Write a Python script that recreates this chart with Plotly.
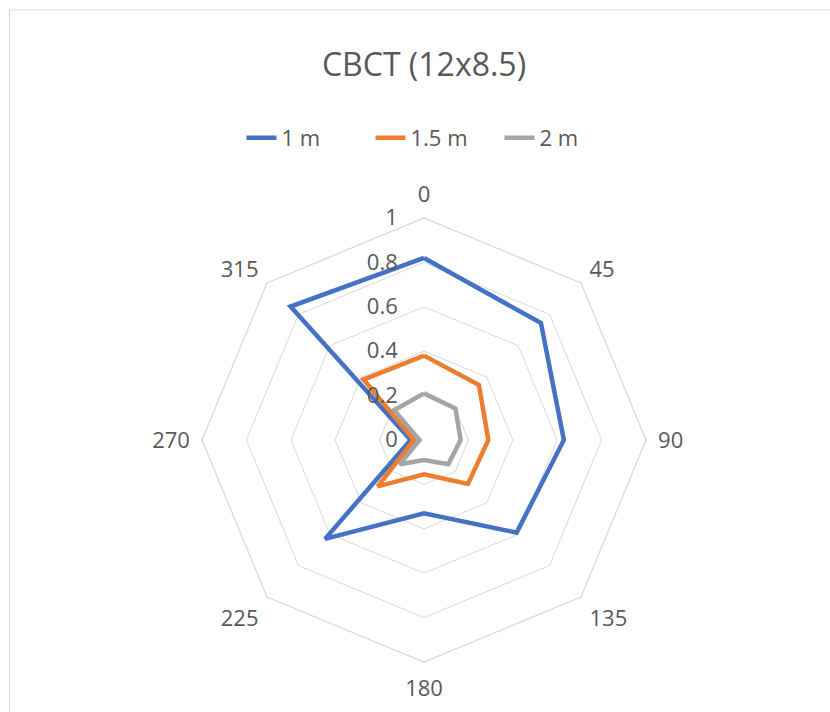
import plotly.graph_objects as go

# Directions (degrees) and normalized values for each distance
directions = ["0", "45", "90", "135", "180", "225", "270", "315"]
series_names = ["1 m", "1.5 m", "2 m"]
values_1m = [0.82, 0.745, 0.63, 0.59, 0.33, 0.63, 0.06, 0.85]
values_15m = [0.38, 0.35, 0.29, 0.28, 0.155, 0.295, 0.045, 0.385]
values_2m = [0.21, 0.20, 0.165, 0.155, 0.09, 0.155, 0.02, 0.19]
radial_ticks = [0, 0.2, 0.4, 0.6, 0.8, 1]

colors = ["#4472C4", "#ED7D31", "#A5A5A5"]
text_color = "#595959"
grid_color = "#D9D9D9"
font_family = "Open Sans, Noto Sans, sans-serif"

fig = go.Figure()
for name, vals, col in zip(series_names, [values_1m, values_15m, values_2m], colors):
    fig.add_trace(go.Scatterpolar(
        r=vals + vals[:1],
        theta=directions + directions[:1],
        mode="lines",
        name=name,
        line=dict(color=col, width=4.5),
    ))

W, H = 830, 712
cx, cy, R = 424, 440, 222

fig.update_layout(
    width=W, height=H,
    margin=dict(l=0, r=0, t=0, b=0),
    paper_bgcolor="white",
    plot_bgcolor="white",
    font=dict(family=font_family, color=text_color, size=22),
    title=dict(
        text="CBCT (12x8.5)",
        x=cx / W, xanchor="center",
        y=1 - 65 / H, yanchor="middle",
        font=dict(size=32, color=text_color, family=font_family),
    ),
    legend=dict(
        orientation="h",
        x=435 / W, xanchor="center",
        y=1 - 138 / H, yanchor="middle",
        font=dict(size=22, color=text_color),
        entrywidth=84,
        entrywidthmode="pixels",
    ),
    polar=dict(
        domain=dict(
            x=[(cx - R) / W, (cx + R) / W],
            y=[(H - cy - R) / H, (H - cy + R) / H],
        ),
        bgcolor="white",
        gridshape="linear",
        angularaxis=dict(
            type="category",
            categoryarray=directions,
            direction="clockwise",
            rotation=90,
            showline=True,
            linecolor=grid_color,
            linewidth=1.3,
            showgrid=False,
            ticks="outside",
            ticklen=7,
            tickcolor="rgba(0,0,0,0)",
            tickfont=dict(size=22, color=text_color),
        ),
        radialaxis=dict(
            range=[0, 1],
            tickvals=radial_ticks,
            ticktext=[f"{v:g}" for v in radial_ticks],
            angle=90,
            tickangle=90,
            side="counterclockwise",
            showline=False,
            ticks="outside",
            ticklen=18,
            tickcolor="rgba(0,0,0,0)",
            gridcolor=grid_color,
            gridwidth=1.3,
            tickfont=dict(size=22, color=text_color),
        ),
    ),
    shapes=[dict(
        type="rect", xref="paper", yref="paper",
        x0=9.5 / W, x1=1.05, y0=-0.05, y1=1 - 10 / H,
        line=dict(color="#D9D9D9", width=1),
        fillcolor="rgba(0,0,0,0)",
        layer="below",
    )],
)

fig.write_html("out.html")
